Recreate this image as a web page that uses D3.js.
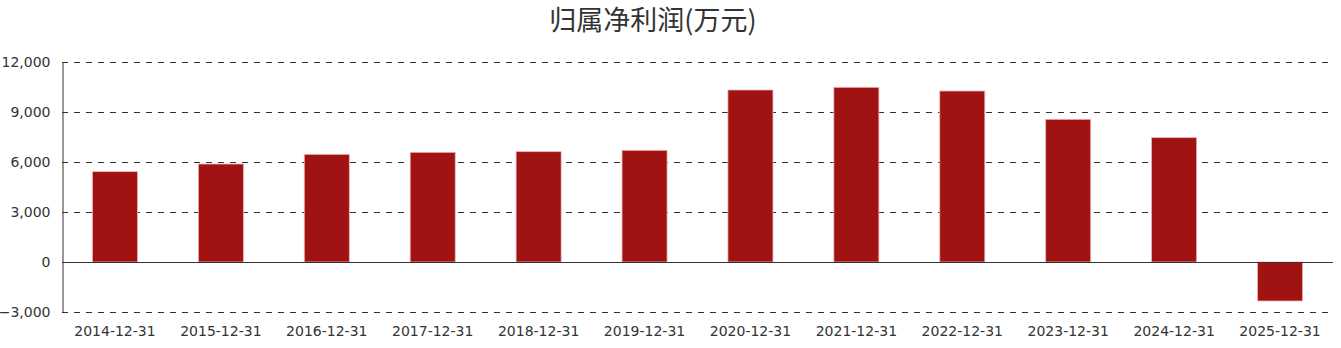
<!DOCTYPE html>
<html>
<head>
<meta charset="utf-8">
<script src="https://cdn.jsdelivr.net/npm/d3@7"></script>
<style>
  body { margin: 0; background: #fff; }
  text { font-family: "DejaVu Sans", sans-serif; }
</style>
</head>
<body>
<div id="chart-area"></div>
<script>
// data
const dates = ['2014-12-31', '2015-12-31', '2016-12-31', '2017-12-31', '2018-12-31', '2019-12-31',
               '2020-12-31', '2021-12-31', '2022-12-31', '2023-12-31', '2024-12-31', '2025-12-31']
const profit = [5420, 5880, 6460, 6580, 6620, 6700, 10320, 10480, 10260, 8560, 7460, -2340]
const yTicks = [-3000, 0, 3000, 6000, 9000, 12000]

const w = 1341
const h = 348
const margin = {top: 62, right: 8, bottom: 36, left: 62}

const svg = d3.select('#chart-area')
  .append('svg')
  .attr('width', w)
  .attr('height', h)

svg.append('text')
  .attr('x', 653)
  .attr('y', 30)
  .attr('text-anchor', 'middle')
  .attr('font-size', 27)
  .attr('fill', '#333')
  .style('font-family', '"Noto Sans CJK SC", sans-serif')
  .text('归属净利润(万元)')

const x = d3.scaleBand()
  .domain(dates)
  .range([margin.left, w - margin.right])
  .paddingInner(0.575)
  .paddingOuter(0.2875)

const y = d3.scaleLinear()
  .domain([-3000, 12000])
  .range([h - margin.bottom, margin.top])

// dashed grid
svg.append('g')
  .selectAll('line')
  .data(yTicks.filter(d => d !== 0))
  .enter()
  .append('line')
  .attr('x1', margin.left)
  .attr('x2', w - margin.right)
  .attr('y1', d => Math.round(y(d)) + 0.5)
  .attr('y2', d => Math.round(y(d)) + 0.5)
  .attr('stroke', '#333')
  .attr('stroke-dasharray', '6,6')

// y axis
const yAxis = svg.append('g')
  .attr('transform', 'translate(' + (margin.left + 0.5) + ',0)')
  .call(d3.axisLeft(y).tickValues(yTicks).tickSize(0).tickPadding(12).tickFormat(d3.format(',')))
yAxis.select('.domain').attr('stroke', '#333')
yAxis.selectAll('text')
  .attr('font-size', 14)
  .attr('fill', '#333')
  .attr('dy', '0.3em')
  .style('font-family', '"DejaVu Sans", sans-serif')

// bars
svg.append('g')
  .selectAll('rect')
  .data(profit)
  .enter()
  .append('rect')
  .attr('x', (d, i) => x(dates[i]))
  .attr('width', x.bandwidth())
  .attr('y', d => y(Math.max(0, d)))
  .attr('height', d => Math.abs(y(d) - y(0)))
  .attr('fill', '#a11212')
  .attr('stroke', '#e8b4b4')
  .attr('stroke-width', 0.8)

// zero line
svg.append('line')
  .attr('x1', margin.left)
  .attr('x2', w - margin.right)
  .attr('y1', Math.round(y(0)) + 0.5)
  .attr('y2', Math.round(y(0)) + 0.5)
  .attr('stroke', '#333')

// x labels
svg.append('g')
  .selectAll('text')
  .data(dates)
  .enter()
  .append('text')
  .attr('x', d => x(d) + x.bandwidth() / 2)
  .attr('y', 336)
  .attr('text-anchor', 'middle')
  .attr('font-size', 14)
  .attr('fill', '#333')
  .text(d => d)
</script>
</body>
</html>
